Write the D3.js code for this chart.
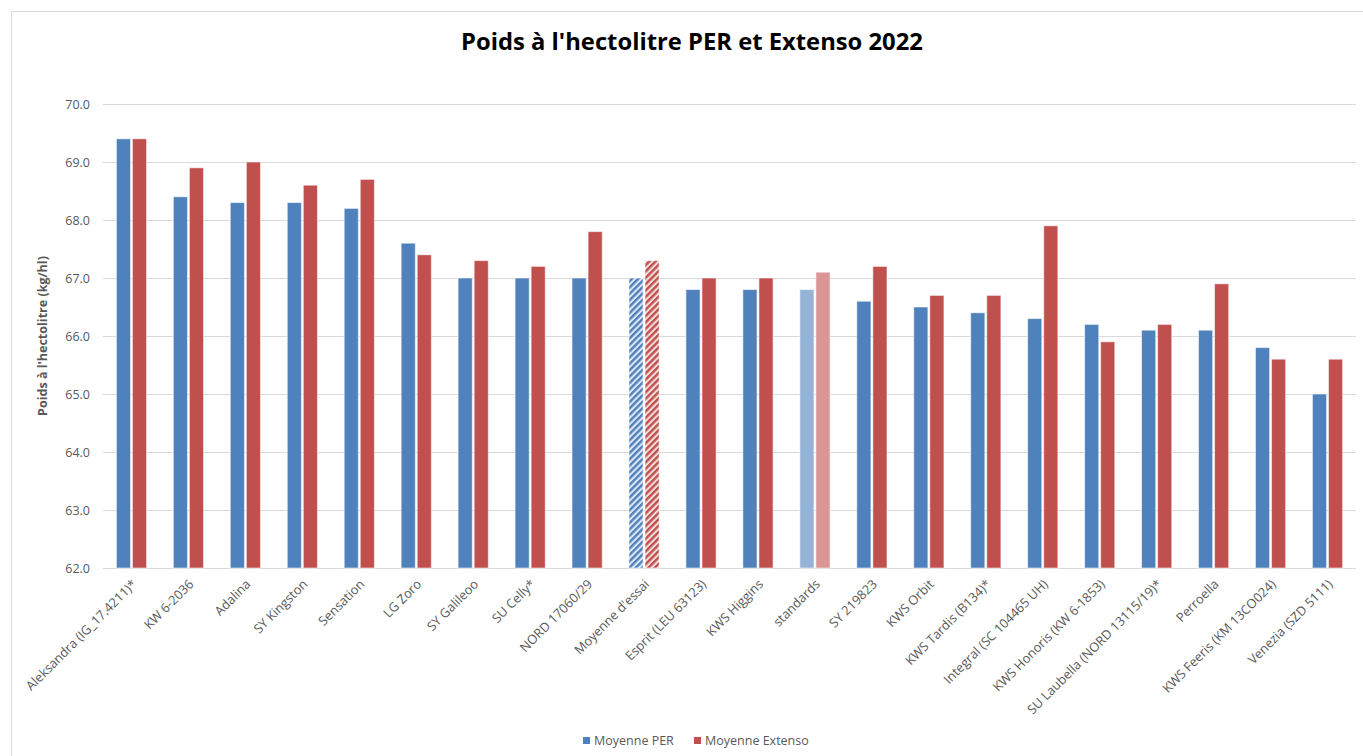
<!DOCTYPE html>
<html>
<head>
<meta charset="utf-8">
<script src="https://cdn.jsdelivr.net/npm/d3@7"></script>
<style>
  body { margin: 0; background: #fff; }
  svg { display: block; font-family: "Open Sans", sans-serif; }
</style>
</head>
<body>
<svg id="chart" width="1363" height="756"></svg>
<script>
// data
var varieties = ["Aleksandra (IG_17.4211)*", "KW 6-2036", "Adalina", "SY Kingston", "Sensation",
    "LG Zoro", "SY Galileoo", "SU Celly*", "NORD 17060/29", "Moyenne d'essai",
    "Esprit (LEU 63123)", "KWS Higgins", "standards", "SY 219823", "KWS Orbit",
    "KWS Tardis (B134)*", "Integral (SC 104465 UH)", "KWS Honoris (KW 6-1853)",
    "SU Laubella (NORD 13115/19)*", "Perroella", "KWS Feeris (KM 13CO024)", "Venezia (SZD 5111)"];
var perValues = [69.4, 68.4, 68.3, 68.3, 68.2, 67.6, 67.0, 67.0, 67.0, 67.0, 66.8,
    66.8, 66.8, 66.6, 66.5, 66.4, 66.3, 66.2, 66.1, 66.1, 65.8, 65.0];
var extensoValues = [69.4, 68.9, 69.0, 68.6, 68.7, 67.4, 67.3, 67.2, 67.8, 67.3, 67.0,
    67.0, 67.1, 67.2, 66.7, 66.7, 67.9, 65.9, 66.2, 66.9, 65.6, 65.6];
var seriesNames = ["Moyenne PER", "Moyenne Extenso"];
var yTicks = [62, 63, 64, 65, 66, 67, 68, 69, 70];

var colors = { "Moyenne PER": "#4f81bd", "Moyenne Extenso": "#c0504d" };
var lightColors = { "Moyenne PER": "#95b3d7", "Moyenne Extenso": "#d99694" };

var svg = d3.select("#chart");
var margin = { top: 104, right: 7, bottom: 188, left: 103 };
var W = 1363, H = 756;

// outer chart border
svg.append("rect")
    .attr("x", 11.5).attr("y", 11.5)
    .attr("width", W + 20).attr("height", H + 20)
    .attr("fill", "none").attr("stroke", "#d9d9d9");

// hatch patterns for the trial mean
var defs = svg.append("defs");
seriesNames.forEach(function (s, i) {
    var p = defs.append("pattern")
        .attr("id", "hatch" + i)
        .attr("patternUnits", "userSpaceOnUse")
        .attr("width", 4.5).attr("height", 4.5)
        .attr("patternTransform", "rotate(45)");
    p.append("rect").attr("width", 4.5).attr("height", 4.5).attr("fill", i == 0 ? "#dce6f2" : "#f2dcdb");
    p.append("rect").attr("width", 2.4).attr("height", 4.5).attr("fill", colors[s]);
});

var x = d3.scaleBand()
    .domain(varieties)
    .range([margin.left, W - margin.right])
    .paddingInner(0.47)
    .paddingOuter(0.235);

var xSub = d3.scaleBand()
    .domain(seriesNames)
    .range([0, x.bandwidth()])
    .paddingInner(0.12);

var y = d3.scaleLinear()
    .domain([62, 70])
    .range([H - margin.bottom, margin.top]);

// gridlines
svg.append("g").selectAll("line")
    .data(yTicks)
    .enter().append("line")
    .attr("x1", margin.left).attr("x2", W - margin.right)
    .attr("y1", d => Math.round(y(d)) + 0.5).attr("y2", d => Math.round(y(d)) + 0.5)
    .attr("stroke", "#d9d9d9").attr("stroke-width", 1);

// y tick labels
svg.append("g").selectAll("text")
    .data(yTicks)
    .enter().append("text")
    .attr("x", 90).attr("y", d => y(d) + 4.5)
    .attr("text-anchor", "end")
    .attr("font-size", 12.5)
    .attr("fill", "#595959")
    .text(d => d3.format(".1f")(d));

// y axis title
svg.append("text")
    .attr("transform", "translate(47," + (y(66)) + ") rotate(-90)")
    .attr("text-anchor", "middle")
    .attr("font-size", 12.5)
    .attr("font-weight", "bold")
    .attr("fill", "#595959")
    .text("Poids à l'hectolitre (kg/hl)");

// bars
var rows = varieties.map(function (v, i) {
    return { name: v, values: [
        { series: seriesNames[0], value: perValues[i], si: 0 },
        { series: seriesNames[1], value: extensoValues[i], si: 1 }] };
});

var groups = svg.append("g").selectAll("g")
    .data(rows)
    .enter().append("g")
    .attr("transform", d => "translate(" + x(d.name) + ",0)");

groups.selectAll("rect")
    .data(function (d) { return d.values.map(v => Object.assign({ cat: d.name }, v)); })
    .enter().append("rect")
    .attr("x", d => xSub(d.series))
    .attr("width", xSub.bandwidth())
    .attr("y", d => y(d.value))
    .attr("height", d => y(62) - y(d.value))
    .attr("fill", function (d) {
        if (d.cat == "Moyenne d'essai") return "url(#hatch" + d.si + ")";
        if (d.cat == "standards") return lightColors[d.series];
        return colors[d.series];
    })
    .attr("stroke", "#fff").attr("stroke-opacity", 0.55).attr("stroke-width", 1);

// category labels, rotated
svg.append("g").selectAll("text")
    .data(varieties)
    .enter().append("text")
    .attr("transform", d => "translate(" + (x(d) + x.bandwidth() / 2 + 6) + "," + (H - margin.bottom + 17) + ") rotate(-45)")
    .attr("text-anchor", "end")
    .attr("font-size", 12.8)
    .attr("fill", "#595959")
    .text(d => d);

// title, sized to the reference width
var title = svg.append("text")
    .attr("x", 692).attr("y", 50)
    .attr("text-anchor", "middle")
    .attr("font-size", 22)
    .attr("font-weight", "bold")
    .attr("fill", "#000")
    .text("Poids à l'hectolitre PER et Extenso 2022");
var tw = title.node().getComputedTextLength();
title.attr("font-size", 22 * 462 / tw);

// legend
var legendX = [583, 694];
var legend = svg.append("g").selectAll("g")
    .data(seriesNames)
    .enter().append("g")
    .attr("transform", (d, i) => "translate(" + legendX[i] + ",737)");
legend.append("rect")
    .attr("width", 7).attr("height", 7)
    .attr("fill", d => colors[d]);
legend.append("text")
    .attr("x", 11).attr("y", 8)
    .attr("font-size", 12.5)
    .attr("fill", "#595959")
    .text(d => d);
</script>
</body>
</html>
